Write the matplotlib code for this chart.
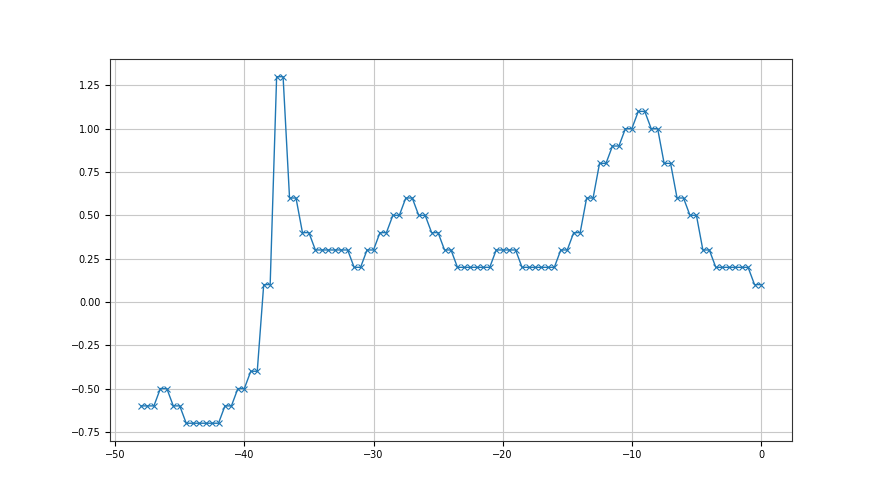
import numpy as np
import matplotlib
matplotlib.use('Agg')
import matplotlib.pyplot as plt

# step values (one per half unit, from -48 to 0)
levels = [-0.6, -0.5, -0.6, -0.7, -0.6, -0.5, -0.4, 0.1, 1.3, 0.6, 0.4,
          0.3, 0.2, 0.3, 0.4, 0.5, 0.6, 0.5, 0.4, 0.3, 0.2, 0.3, 0.2,
          0.3, 0.4, 0.6, 0.8, 0.9, 1.0, 1.1, 1.0, 0.8, 0.6, 0.5, 0.3, 0.2, 0.1]
counts = [3, 2, 2, 6, 2, 2, 2, 2, 2, 2, 2,
          6, 2, 2, 2, 2, 2, 2, 2, 2, 6, 4, 6,
          2, 2, 2, 2, 2, 2, 2, 2, 2, 2, 2, 2, 6, 2]

y = []
for lv, c in zip(levels, counts):
    y += [lv] * c
x = np.arange(len(y)) * 0.5 - 48.0

fig, ax = plt.subplots(figsize=(8.8, 4.95), dpi=100)
ax.plot(x, y, marker='x', color='#1f77b4', linewidth=1.0, markersize=4, markeredgewidth=0.8)
ax.grid(True, color='#c8c8c8', linewidth=0.8)
ax.tick_params(labelsize=7)
for s in ax.spines.values():
    s.set_color('#333333')
plt.savefig('out.png')
